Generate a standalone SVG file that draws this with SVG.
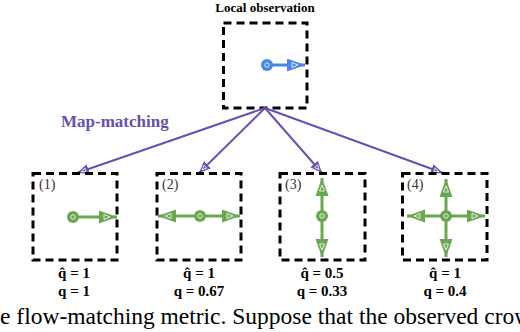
<svg xmlns="http://www.w3.org/2000/svg" width="520" height="332" viewBox="0 0 520 332">
<style>
.box{fill:none;stroke:#000;stroke-width:3;stroke-dasharray:8 5}
.g{stroke:#6aa84f;stroke-width:3;fill:none}
.b{stroke:#4a86e8;stroke-width:3;fill:none}
.p{stroke:#6a50b0;stroke-width:2;fill:none}
.lbl{font-family:"Liberation Serif",serif;font-weight:bold;font-size:15px;text-anchor:middle;fill:#000}
.num{font-family:"Liberation Serif",serif;font-size:14px;fill:#333}
.dot{stroke:none}
.ring{fill:none;stroke:#fff;stroke-width:0.8}
</style>
<defs>
<marker id="mg" markerUnits="userSpaceOnUse" markerWidth="20" markerHeight="14" refX="18" refY="6.5" orient="auto" viewBox="0 0 20 14">
<path d="M0,0 L18,6.5 L0,13 Z" fill="#6aa84f"/>
<path d="M5,4 L11,6.5 L5,9 Z" fill="none" stroke="#fff" stroke-width="0.8"/>
</marker>
<marker id="mb" markerUnits="userSpaceOnUse" markerWidth="20" markerHeight="14" refX="18" refY="6.5" orient="auto" viewBox="0 0 20 14">
<path d="M0,0 L18,6.5 L0,13 Z" fill="#4a86e8"/>
<path d="M5,4 L11,6.5 L5,9 Z" fill="none" stroke="#fff" stroke-width="0.8"/>
</marker>
<marker id="mp" markerUnits="userSpaceOnUse" markerWidth="14" markerHeight="12" refX="12" refY="5" orient="auto" viewBox="0 0 14 12">
<path d="M0,0 L12,5 L0,10 Z" fill="#6a50b0"/>
<path d="M3,3 L7.5,5 L3,7 Z" fill="none" stroke="#fff" stroke-width="0.8"/>
</marker>
</defs>
<rect width="520" height="332" fill="#fff"/>

<g id="local">
<text x="265" y="12" font-family="'Liberation Serif',serif" font-weight="bold" font-size="13" text-anchor="middle">Local observation</text>
<rect class="box" x="223.5" y="23" width="83.5" height="85"/>
<line class="b" x1="267" y1="65" x2="305" y2="65" marker-end="url(#mb)"/>
<circle class="dot" cx="267" cy="65" r="6" fill="#4a86e8"/>
<circle class="ring" cx="267" cy="65" r="2.2"/>
</g>

<g id="connectors">
<line class="p" x1="265" y1="108" x2="77" y2="173" marker-end="url(#mp)"/>
<line class="p" x1="265" y1="108" x2="199" y2="173" marker-end="url(#mp)"/>
<line class="p" x1="265" y1="108" x2="322" y2="173" marker-end="url(#mp)"/>
<line class="p" x1="265" y1="108" x2="443" y2="173" marker-end="url(#mp)"/>
<text x="61" y="127" font-family="'Liberation Serif',serif" font-weight="bold" font-size="17" fill="#6a50b0">Map-matching</text>
</g>

<g id="case1">
<rect class="box" x="33" y="173.5" width="84" height="86.5"/>
<text class="num" x="39" y="189">(1)</text>
<line class="g" x1="73" y1="217" x2="117" y2="217" marker-end="url(#mg)"/>
<circle class="dot" cx="73" cy="217" r="6" fill="#6aa84f"/>
<circle class="ring" cx="73" cy="217" r="2.2"/>
<text class="lbl" x="74" y="278">q̂ = 1</text>
<text class="lbl" x="74" y="296">q = 1</text>
</g>

<g id="case2">
<rect class="box" x="157" y="173.5" width="84" height="86.5"/>
<text class="num" x="162" y="189">(2)</text>
<line class="g" x1="200" y1="216" x2="240" y2="216" marker-end="url(#mg)"/>
<line class="g" x1="200" y1="216" x2="158" y2="216" marker-end="url(#mg)"/>
<circle class="dot" cx="200" cy="216" r="6" fill="#6aa84f"/>
<circle class="ring" cx="200" cy="216" r="2.2"/>
<text class="lbl" x="199" y="278">q̂ = 1</text>
<text class="lbl" x="199" y="296">q = 0.67</text>
</g>

<g id="case3">
<rect class="box" x="280" y="173.5" width="85" height="86.5"/>
<text class="num" x="285" y="189">(3)</text>
<line class="g" x1="322" y1="216" x2="322" y2="178" marker-end="url(#mg)"/>
<line class="g" x1="322" y1="216" x2="322" y2="257" marker-end="url(#mg)"/>
<circle class="dot" cx="322" cy="216" r="6" fill="#6aa84f"/>
<circle class="ring" cx="322" cy="216" r="2.2"/>
<text class="lbl" x="322" y="278">q̂ = 0.5</text>
<text class="lbl" x="322" y="296">q = 0.33</text>
</g>

<g id="case4">
<rect class="box" x="402.5" y="173.5" width="84.5" height="86.5"/>
<text class="num" x="407" y="189">(4)</text>
<line class="g" x1="446" y1="216" x2="446" y2="179" marker-end="url(#mg)"/>
<line class="g" x1="446" y1="216" x2="446" y2="257" marker-end="url(#mg)"/>
<line class="g" x1="446" y1="216" x2="407" y2="216" marker-end="url(#mg)"/>
<line class="g" x1="446" y1="216" x2="485" y2="216" marker-end="url(#mg)"/>
<circle class="dot" cx="446" cy="216" r="6" fill="#6aa84f"/>
<circle class="ring" cx="446" cy="216" r="2.2"/>
<text class="lbl" x="445" y="278">q̂ = 1</text>
<text class="lbl" x="445" y="296">q = 0.4</text>
</g>

<text x="0" y="324" font-family="'Liberation Serif',serif" font-size="23.5">e flow-matching metric. Suppose that the observed crow</text>
</svg>
